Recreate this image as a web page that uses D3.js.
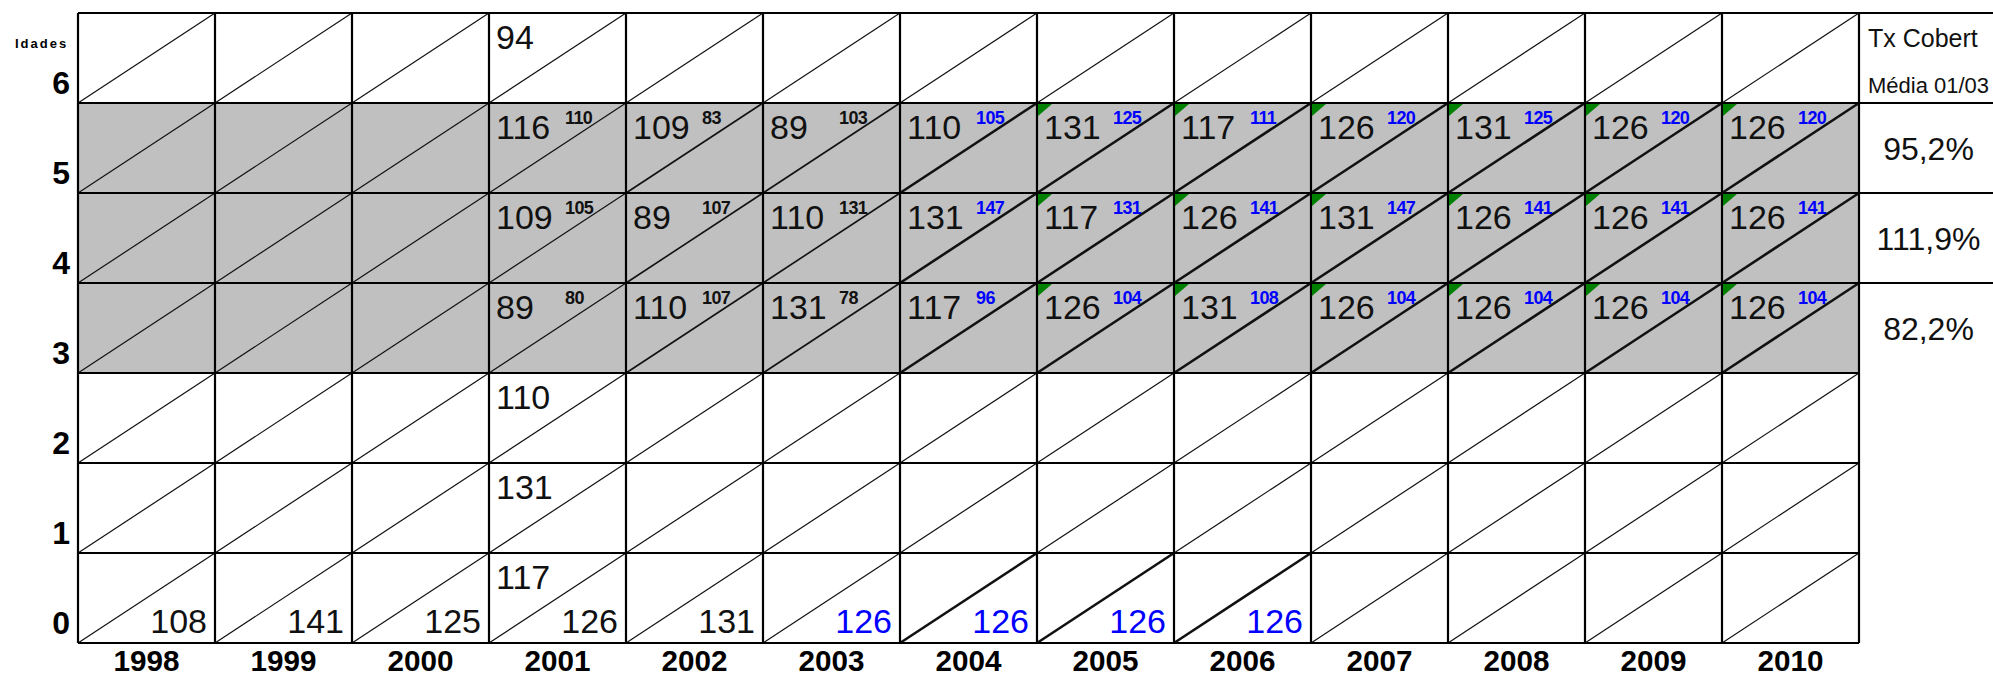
<!DOCTYPE html>
<html><head><meta charset="utf-8">
<script src="https://cdn.jsdelivr.net/npm/d3@7"></script>
<style>html,body{margin:0;padding:0;background:#fff;}svg{display:block;}</style>
</head><body>
<svg id="c" width="1993" height="680"></svg>
<script>
// ---- data ----
const years = [1998,1999,2000,2001,2002,2003,2004,2005,2006,2007,2008,2009,2010];
const ages = [6,5,4,3,2,1,0];
const shadedAges = [5,4,3];
const tableYears = [2001,2002,2003,2004,2005,2006,2007,2008,2009,2010];
const mainAge5 = [116,109,89,110,131,117,126,131,126,126];
const mainAge4 = [109,89,110,131,117,126,131,126,126,126];
const mainAge3 = [89,110,131,117,126,131,126,126,126,126];
const sideAge5 = [110,83,103,105,125,111,120,125,120,120];
const sideAge4 = [105,107,131,147,131,141,147,141,141,141];
const sideAge3 = [80,107,78,96,104,108,104,104,104,104];
const extraAges2001 = [6,2,1,0];
const extraValues2001 = [94,110,131,117];
const age0Years = [1998,1999,2000,2001,2002,2003,2004,2005,2006];
const age0Values = [108,141,125,126,131,126,126,126,126];
const coverageLabels = ["95,2%","111,9%","82,2%"];
const coverageTitle = "Tx Cobert";
const coverageSubtitle = "Média 01/03";
const ageTitle = "Idades";
const sideBlueFrom = 2004, age0BlueFrom = 2003, commentFrom = 2005;
const boldDiagFrom = 2004, boldAge0Diag = [2004,2005,2006];

// ---- layout ----
const svg = d3.select("#c");
const x = d3.scaleBand().domain(years).range([78, 1859]).paddingInner(0).paddingOuter(0);
const y = d3.scaleBand().domain(ages).range([13, 643]).paddingInner(0).paddingOuter(0);
const bw = x.bandwidth(), bh = y.bandwidth();
const colRight = 1859, colW = bw;
const BLUE = "#0000ff";
const NUM_FONT = "'Liberation Sans', Arial, sans-serif";

// shading
svg.append("g").selectAll("rect").data(shadedAges).join("rect")
  .attr("x", x.range()[0]).attr("y", d => y(d)).attr("width", colRight - x.range()[0]).attr("height", bh)
  .attr("fill", "#c0c0c0");

// diagonals
const cells = [];
years.forEach(yr => ages.forEach(a => cells.push({yr, a})));
function diagWidth(c){
  if (shadedAges.includes(c.a) && c.yr >= boldDiagFrom) return 2.6;
  if (c.a === 0 && boldAge0Diag.includes(c.yr)) return 2.6;
  if (shadedAges.includes(c.a) && c.yr >= 2002) return 1.6;
  return 1.2;
}
svg.append("g").selectAll("line").data(cells).join("line")
  .attr("x1", d => x(d.yr)).attr("y1", d => y(d.a) + bh)
  .attr("x2", d => x(d.yr) + bw).attr("y2", d => y(d.a))
  .attr("stroke", "#111").attr("stroke-width", diagWidth);

// grid lines
const g = svg.append("g").attr("stroke", "#000").attr("stroke-width", 2.2);
const vlines = years.map(d => x(d)).concat([colRight]);
g.selectAll(".v").data(vlines).join("line").attr("class","v")
  .attr("x1", d => d).attr("x2", d => d).attr("y1", 13).attr("y2", 643);
const hlines = ages.map(a => y(a)).concat([643]);
g.selectAll(".h").data(hlines).join("line").attr("class","h")
  .attr("x1", x.range()[0]).attr("x2", d => d <= y(3) + 1 ? 1993 : colRight)
  .attr("y1", d => d).attr("y2", d => d);

// comment markers (green triangles)
const markerCells = [];
tableYears.filter(v => v >= commentFrom).forEach(yr => shadedAges.forEach(a => markerCells.push({yr, a})));
svg.append("g").selectAll("path").data(markerCells).join("path")
  .attr("d", d => { const x0 = x(d.yr) + 1, y0 = y(d.a) + 1; return `M${x0},${y0}L${x0+14},${y0}L${x0},${y0+12}Z`; })
  .attr("fill", "#008000");

// main numbers (top-left)
const mainRows = [[5, mainAge5],[4, mainAge4],[3, mainAge3]];
const mainData = [];
mainRows.forEach(([a, vals]) => vals.forEach((v, i) => mainData.push({yr: tableYears[i], a, v})));
extraAges2001.forEach((a, i) => mainData.push({yr: 2001, a, v: extraValues2001[i]}));
svg.append("g").selectAll("text").data(mainData).join("text")
  .attr("x", d => x(d.yr) + 7).attr("y", d => y(d.a) + 36)
  .attr("font-family", NUM_FONT).attr("font-size", 34).attr("fill", "#111")
  .text(d => d.v);

// side numbers (small, top-right)
const sideRows = [[5, sideAge5],[4, sideAge4],[3, sideAge3]];
const sideData = [];
sideRows.forEach(([a, vals]) => vals.forEach((v, i) => sideData.push({yr: tableYears[i], a, v})));
svg.append("g").selectAll("text").data(sideData).join("text")
  .attr("x", d => x(d.yr) + 76).attr("y", d => y(d.a) + 21)
  .attr("font-family", NUM_FONT).attr("font-size", 18).attr("font-weight", "bold")
  .attr("letter-spacing", -0.6)
  .attr("fill", d => d.yr >= sideBlueFrom ? BLUE : "#111")
  .text(d => d.v);

// age 0 numbers (bottom-right)
svg.append("g").selectAll("text").data(age0Years.map((yr, i) => ({yr, v: age0Values[i]}))).join("text")
  .attr("x", d => x(d.yr) + bw - 8).attr("y", y(0) + bh - 10)
  .attr("text-anchor", "end")
  .attr("font-family", NUM_FONT).attr("font-size", 34)
  .attr("fill", d => d.yr >= age0BlueFrom ? BLUE : "#111")
  .text(d => d.v);

// coverage column
svg.append("g").selectAll("text").data(shadedAges.map((a, i) => ({a, t: coverageLabels[i]}))).join("text")
  .attr("x", colRight + colW / 2 + 1).attr("y", d => y(d.a) + 57)
  .attr("text-anchor", "middle")
  .attr("font-family", NUM_FONT).attr("font-size", 32).attr("fill", "#111")
  .text(d => d.t);
svg.append("text").attr("x", colRight + 9).attr("y", 47)
  .attr("font-family", NUM_FONT).attr("font-size", 25).attr("fill", "#111").text(coverageTitle);
svg.append("text").attr("x", colRight + 9).attr("y", 93)
  .attr("font-family", NUM_FONT).attr("font-size", 22).attr("fill", "#111").text(coverageSubtitle);

// axes
const xAxis = svg.append("g").attr("transform", "translate(0,643)")
  .call(d3.axisBottom(x).tickSize(0).tickPadding(0));
xAxis.select(".domain").remove();
xAxis.selectAll("text").attr("dy", 0).attr("y", 28)
  .attr("font-family", "'Liberation Sans', Arial, sans-serif")
  .attr("font-weight", "bold").attr("font-size", 30).attr("fill", "#000")
  .attr("textLength", 66).attr("lengthAdjust", "spacingAndGlyphs");

const yAxis = svg.append("g").attr("transform", "translate(70,0)")
  .call(d3.axisLeft(y).tickSize(0).tickPadding(0));
yAxis.select(".domain").remove();
yAxis.selectAll(".tick").attr("transform", d => `translate(0,${y(d) + bh - 9})`);
yAxis.selectAll("text").attr("dy", 0).attr("x", 0)
  .attr("font-family", "'Liberation Sans', Arial, sans-serif")
  .attr("font-weight", "bold").attr("font-size", 32).attr("fill", "#000");

svg.append("text").attr("x", 15).attr("y", 48)
  .attr("font-family", NUM_FONT).attr("font-weight", "bold").attr("font-size", 13)
  .attr("letter-spacing", 2).attr("fill", "#000")
  .text(ageTitle);
</script>
</body></html>
